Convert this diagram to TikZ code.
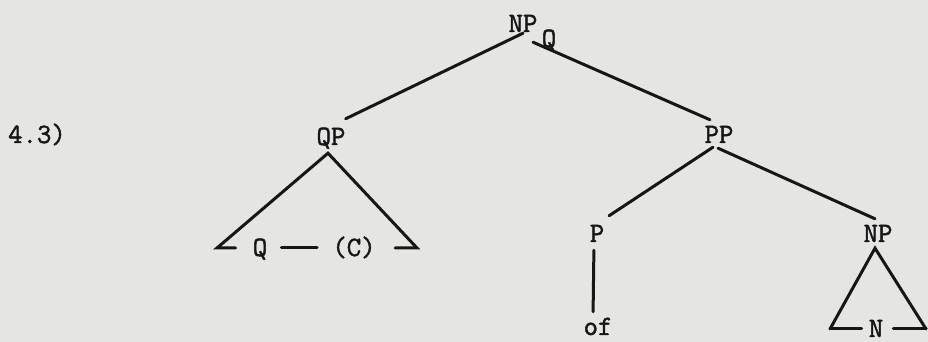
\documentclass[tikz,border=0pt]{standalone}
\usepackage{fontspec}
\newfontfamily\tw[FakeBold=1.6]{Latin Modern Mono}
\definecolor{paper}{RGB}{229,229,227}
\definecolor{ink}{RGB}{22,22,22}
\begin{document}
\begin{tikzpicture}[x=1pt,y=1pt,
  lab/.style={inner sep=0pt, anchor=base, text height=16pt, text depth=0pt,
              font=\tw\fontsize{28}{30}\selectfont, text=ink},
  branch/.style={draw=ink, line width=3pt, line cap=round, line join=miter}]
\fill[paper] (0,0) rectangle (928,342);
\useasboundingbox (0,0) rectangle (928,342);
% labels
\node[lab] (ex)   at (37,199)  {4.3)};
\node[lab] (npq)  at (523,310) {NP};
\node[lab] (npqs) at (549,295) {Q};
\node[lab] (qp)   at (331,197) {QP};
\node[lab] (q)    at (260,86)  {Q};
\node[lab] (c)    at (354,86)  {(C)};
\node[lab] (pp)   at (719,199) {PP};
\node[lab] (p)    at (597,100) {P};
\node[lab] (of)   at (598,7)   {of};
\node[lab] (np)   at (878,100) {NP};
\node[lab] (n)    at (876,5)   {N};
% triangle corners
\coordinate (qL) at (217,94);
\coordinate (qR) at (417,94);
\coordinate (nL) at (830,13);
\coordinate (nR) at (926,13);
% branches
\draw[branch] ([yshift=-1pt]npq.south) -- ([yshift=10pt]qp.north east);
\draw[branch] ([xshift=10pt,yshift=-10pt]npq.south) -- ([xshift=-9pt,yshift=7pt]pp.north);
\draw[branch] ([xshift=-6pt,yshift=-4pt]pp.south) -- ([xshift=12pt,yshift=10pt]p.north);
\draw[branch] ([xshift=-1pt,yshift=-5pt]pp.south) -- ([xshift=-3pt,yshift=7pt]np.north);
\draw[branch, shorten <=8pt, shorten >=7pt] ([xshift=-3pt]p.south) -- ([xshift=-5pt]of.north);
% QP triangle
\draw[branch] (q.west) ++(-17,0) -- (qL) -- ([yshift=-8pt,xshift=-3pt]qp.south) -- (qR) -- ++(-22,0);
\draw[branch, shorten <=14pt, shorten >=15pt] (q.east) -- (c.west);
% NP triangle
\draw[branch] (nL) -- ([yshift=-6pt,xshift=-3pt]np.south) -- (nR);
\draw[branch, shorten >=7pt] (nL) -- (n.west);
\draw[branch, shorten <=10pt] (n.east) -- (nR);
\end{tikzpicture}
\end{document}
